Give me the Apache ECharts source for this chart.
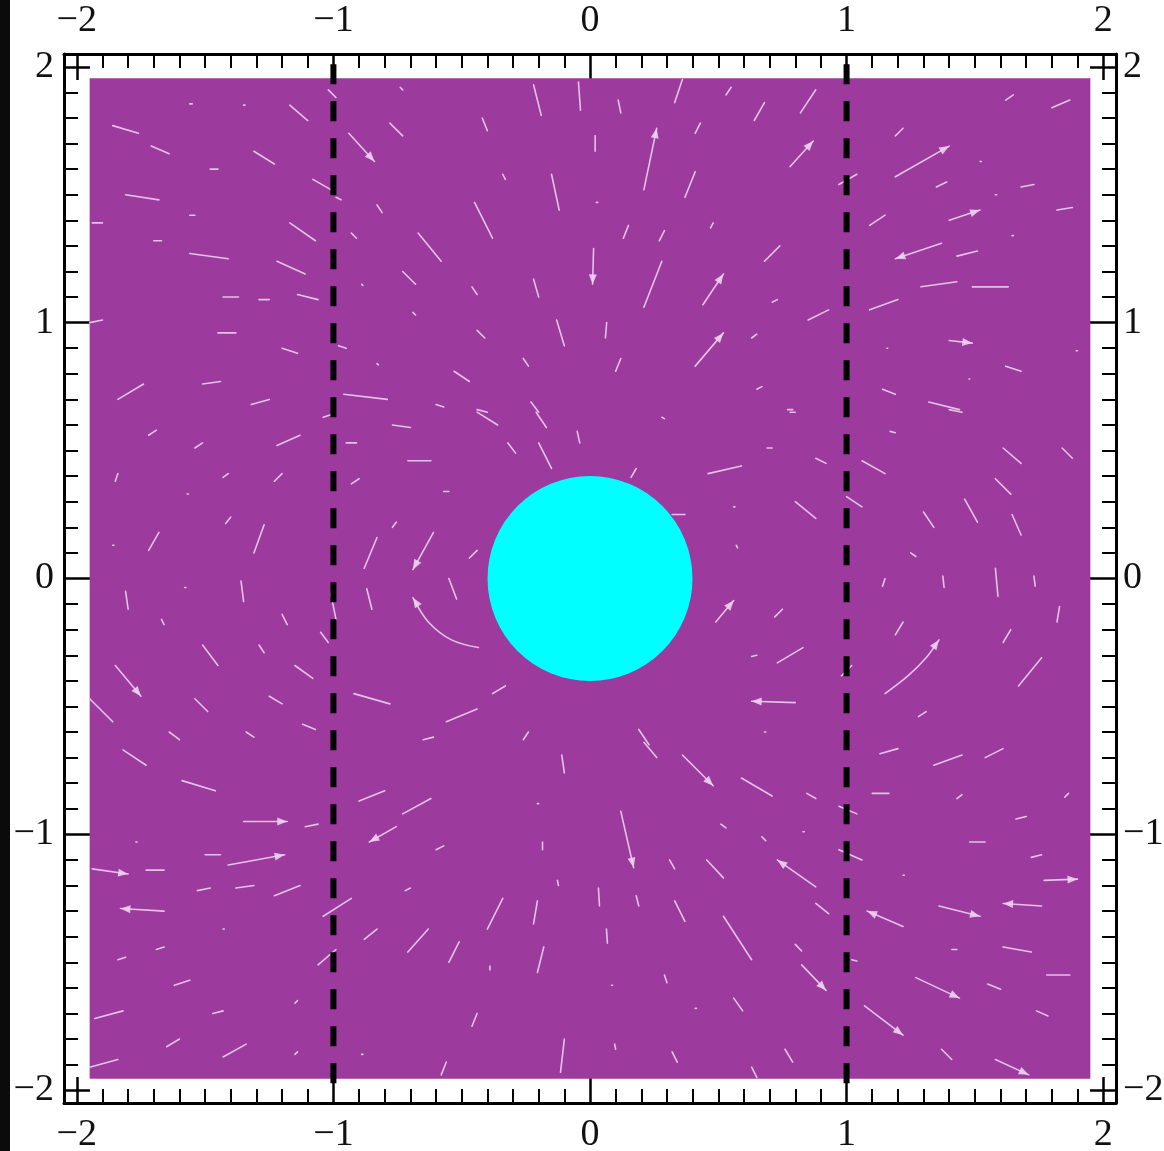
<!DOCTYPE html>
<html>
<head>
<meta charset="utf-8">
<title>Stream field around a disk</title>
<script src="https://cdn.jsdelivr.net/npm/echarts@6/dist/echarts.min.js"></script>
<style>
  html, body { margin: 0; padding: 0; background: #ffffff; }
  #chart { width: 1164px; height: 1151px; }
</style>
</head>
<body>
<div id="chart"></div>
<script>
// ---- data -------------------------------------------------------------
const AXIS_RANGE = [-2.05, 2.05];
const MAJOR_TICKS = [-2, -1, 0, 1, 2];
const TICK_LABELS = ['\u22122', '\u22121', '0', '1', '2'];
const MINOR_TICKS = [
  -1.9, -1.8, -1.7, -1.6, -1.5, -1.4, -1.3, -1.2, -1.1,
  -0.9, -0.8, -0.7, -0.6, -0.5, -0.4, -0.3, -0.2, -0.1,
  0.1, 0.2, 0.3, 0.4, 0.5, 0.6, 0.7, 0.8, 0.9,
  1.1, 1.2, 1.3, 1.4, 1.5, 1.6, 1.7, 1.8, 1.9
];

// shaded domain [xmin, ymax, xmax, ymin]
const fieldRegion = [[-1.95, 1.955, 1.95, -1.955]];
// obstacle disk [cx, cy, radius]
const obstacle = [[0, 0, 0.4]];
// vertical dashed boundaries at x = -1 and x = 1
const dividerX = [-1, 1];
const dividerSpan = [2.01, -1.99];

// stream segments [x0, y0, x1, y1, arrowhead]
const streamSegments = [
  // upper left
  [-1.02,1.91,-0.99,1.88],[-1.17,1.85,-1.10,1.79],[-1.86,1.77,-1.76,1.74],[-1.71,1.69,-1.64,1.66],
  [-1.31,1.67,-1.23,1.62],[-1.48,1.60,-1.45,1.60],[-1.56,1.855,-1.55,1.855],[-1.35,1.85,-1.345,1.85],
  [-1.81,1.50,-1.68,1.48],[-1.08,1.56,-1.01,1.52],[-0.99,1.49,-0.97,1.48],[-1.56,1.42,-1.54,1.42],
  [-1.94,1.39,-1.90,1.39],[-1.70,1.32,-1.67,1.32],[-1.17,1.39,-1.07,1.32],[-1.56,1.27,-1.41,1.25],
  [-1.22,1.24,-1.11,1.19],[-1.43,1.10,-1.37,1.10],[-1.29,1.09,-1.25,1.09],[-1.14,1.11,-1.06,1.09],
  [-1.95,1.00,-1.90,1.01],[-1.45,0.96,-1.38,0.96],[-1.20,0.90,-1.14,0.88],[-0.98,0.91,-0.95,0.90],
  [-1.84,0.70,-1.74,0.76],[-1.51,0.76,-1.44,0.77],[-1.32,0.68,-1.25,0.70],[-0.96,0.72,-0.79,0.70],
  [-0.74,1.92,-0.73,1.91],[-0.22,1.93,-0.19,1.81],[-0.045,1.94,-0.037,1.83],[-0.78,1.78,-0.73,1.73],
  [-0.42,1.80,-0.40,1.75],[-0.94,1.74,-0.84,1.63,1],[-0.34,1.58,-0.33,1.56],[-0.15,1.58,-0.12,1.44],
  [-0.83,1.46,-0.81,1.43],[-0.45,1.47,-0.38,1.33],[-0.93,1.35,-0.91,1.33],[-0.67,1.35,-0.58,1.24],
  [-0.73,1.20,-0.68,1.15],[-0.89,1.15,-0.885,1.145],[-0.46,1.14,-0.44,1.11],[-0.22,1.17,-0.20,1.10],
  [-0.69,1.04,-0.68,1.03],[-0.44,0.97,-0.41,0.94],[-0.13,1.01,-0.10,0.91],[-0.83,0.84,-0.825,0.835],
  [-0.26,0.86,-0.24,0.83],[-0.53,0.81,-0.47,0.77],[-0.60,0.68,-0.57,0.67],[-0.44,0.66,-0.40,0.65],
  [-0.23,0.69,-0.20,0.65],
  // upper right
  [0.33,1.86,0.36,1.95],[0.11,1.87,0.12,1.82],[0.53,1.89,0.55,1.92],[0.64,1.79,0.68,1.86],
  [0.82,1.82,0.88,1.91],[0.02,1.73,0.02,1.67],[0.21,1.52,0.26,1.76,1],[0.41,1.74,0.43,1.78],
  [0.37,1.49,0.41,1.59],[0.78,1.61,0.87,1.71,1],[0.025,1.47,0.03,1.47],[0.13,1.33,0.15,1.38],
  [0.27,1.32,0.29,1.36],[0.47,1.37,0.48,1.39],[0.68,1.24,0.74,1.30],[0.014,1.29,0.01,1.15,1],
  [0.21,1.06,0.28,1.24],[0.44,1.07,0.52,1.19,1],[0.71,1.08,0.73,1.09],[0.85,1.01,0.93,1.05],
  [0.06,0.94,0.065,1.00],[0.10,0.81,0.12,0.86],[0.41,0.83,0.52,0.96,1],[0.63,0.94,0.65,0.955],
  [0.65,0.74,0.67,0.75],[0.77,0.66,0.79,0.66],[1.19,1.73,1.22,1.76],[1.19,1.57,1.40,1.69,1],
  [1.62,1.87,1.65,1.89],[1.80,1.84,1.87,1.87],[0.97,1.54,1.04,1.58],[1.35,1.53,1.39,1.55],
  [1.52,1.63,1.525,1.63],[1.68,1.53,1.73,1.54],[1.58,1.50,1.585,1.50],[1.09,1.38,1.15,1.42],
  [1.40,1.40,1.52,1.44,1],[1.82,1.44,1.88,1.45],[1.645,1.34,1.65,1.34],[1.37,1.31,1.19,1.25,1],
  [1.43,1.26,1.51,1.28],[1.29,1.14,1.43,1.16],[1.49,1.14,1.63,1.14],[1.09,1.05,1.20,1.09],
  [1.40,0.93,1.49,0.92,1],[1.157,0.90,1.16,0.90],[1.895,0.89,1.90,0.89],[1.62,0.83,1.68,0.81],
  [1.477,0.78,1.48,0.78],[1.14,0.74,1.19,0.72],[1.32,0.69,1.44,0.66],
  // middle left
  [-1.04,0.63,-1.01,0.64],[-1.72,0.56,-1.69,0.58],[-1.54,0.51,-1.51,0.53],[-1.22,0.52,-1.13,0.56],
  [-0.95,0.53,-0.91,0.53],[-0.77,0.60,-0.70,0.59],[-0.44,0.65,-0.36,0.60],[-0.21,0.65,-0.17,0.59],
  [-0.05,0.575,-0.04,0.53],[-0.32,0.53,-0.29,0.49],[-0.20,0.53,-0.15,0.43],[-0.71,0.46,-0.62,0.46],
  [-1.85,0.38,-1.84,0.41],[-1.43,0.395,-1.41,0.41],[-1.23,0.38,-1.20,0.41],[-0.93,0.37,-0.90,0.39],
  [-0.57,0.34,-0.55,0.34],[-1.57,0.33,-1.565,0.33],[-1.42,0.215,-1.40,0.24],[-1.72,0.11,-1.68,0.18],
  [-1.31,0.10,-1.27,0.21],[-0.77,0.20,-0.755,0.22],[-0.88,0.04,-0.83,0.16],[-0.61,0.18,-0.69,0.035,1],
  [-0.47,0.08,-0.44,0.11],[-1.86,0.13,-1.855,0.13],[-1.81,-0.05,-1.80,-0.12],[-1.58,-0.035,-1.575,-0.035],
  [-1.36,-0.01,-1.35,-0.09],[-1.01,-0.06,-0.99,-0.16],[-0.87,-0.04,-0.85,-0.12],[-0.55,0.00,-0.52,-0.08],
  [-1.20,-0.14,-1.18,-0.18],[-1.67,-0.16,-1.66,-0.18],[-1.05,-0.21,-1.02,-0.25],[-1.51,-0.26,-1.45,-0.34],
  [-1.29,-0.26,-1.27,-0.29],[-1.85,-0.34,-1.75,-0.46,1],[-1.15,-0.34,-1.08,-0.39],[-0.92,-0.45,-0.78,-0.49],
  [-0.38,-0.45,-0.33,-0.42],[-1.95,-0.47,-1.86,-0.56],[-1.54,-0.47,-1.49,-0.52],[-1.25,-0.46,-1.20,-0.49],
  [-0.56,-0.56,-0.44,-0.51],[-1.64,-0.60,-1.60,-0.63],[-1.34,-0.60,-1.31,-0.62],[-1.12,-0.57,-1.07,-0.59],
  [-0.65,-0.63,-0.61,-0.62],[-0.26,-0.63,-0.24,-0.60],
  // middle right
  [0.28,0.63,0.29,0.625],[0.78,0.65,0.80,0.65],[0.69,0.51,0.71,0.51],[0.46,0.41,0.59,0.44],
  [0.88,0.47,0.92,0.45],[0.16,0.395,0.18,0.43],[0.32,0.25,0.37,0.25],[0.56,0.28,0.565,0.28],
  [0.80,0.30,0.88,0.235],[0.57,0.13,0.575,0.12],[0.49,-0.17,0.56,-0.086,1],[0.72,-0.15,0.75,-0.12],
  [0.63,-0.305,0.65,-0.30],[0.73,-0.33,0.83,-0.27],[0.80,-0.485,0.63,-0.48,1],[0.19,-0.59,0.23,-0.65],
  [0.68,-0.60,0.685,-0.60],[1.40,0.66,1.45,0.65],[1.17,0.575,1.19,0.57],[1.06,0.46,1.15,0.41],
  [1.00,0.32,1.06,0.28],[1.61,0.51,1.68,0.45],[1.84,0.51,1.88,0.47],[1.58,0.39,1.64,0.33],
  [1.46,0.31,1.51,0.22],[1.30,0.26,1.34,0.20],[1.645,0.25,1.68,0.17],[1.25,0.10,1.27,0.086],
  [1.14,-0.03,1.15,0.00],[1.375,0.01,1.38,-0.035],[1.58,0.04,1.59,-0.07],[1.73,0.01,1.735,-0.03],
  [1.19,-0.22,1.22,-0.17],[1.82,-0.17,1.83,-0.11],[1.61,-0.25,1.64,-0.20],[1.67,-0.42,1.76,-0.31],
  [1.28,-0.54,1.31,-0.52],[0.98,-0.38,1.02,-0.34],
  // lower left
  [-1.82,-0.67,-1.73,-0.73],[-1.59,-0.79,-1.46,-0.83],[-1.35,-0.95,-1.18,-0.95,1],[-1.11,-0.97,-1.06,-0.96],
  [-1.77,-1.03,-1.765,-1.03],[-1.50,-1.08,-1.44,-1.08],[-1.41,-1.12,-1.19,-1.08,1],[-1.94,-1.135,-1.80,-1.155,1],
  [-1.73,-1.14,-1.66,-1.14],[-1.53,-1.22,-1.48,-1.21],[-1.38,-1.21,-1.31,-1.20],[-1.23,-1.24,-1.13,-1.20],
  [-1.66,-1.30,-1.83,-1.29,1],[-1.43,-1.37,-1.425,-1.37],[-1.84,-1.49,-1.81,-1.48],[-1.69,-1.45,-1.66,-1.44],
  [-1.62,-1.59,-1.56,-1.57],[-1.93,-1.72,-1.82,-1.69],[-1.47,-1.70,-1.43,-1.69],[-1.15,-1.66,-1.14,-1.65],
  [-1.65,-1.83,-1.60,-1.80],[-1.43,-1.87,-1.34,-1.82],[-1.95,-1.91,-1.84,-1.88],[-1.15,-1.86,-1.14,-1.85],
  [-1.04,-1.32,-0.93,-1.25],[-1.06,-1.51,-0.99,-1.45],[-0.90,-0.87,-0.80,-0.83],[-0.73,-0.92,-0.62,-0.86],
  [-0.755,-0.97,-0.86,-1.03,1],[-0.60,-1.06,-0.57,-1.045],[-0.72,-1.22,-0.70,-1.21],[-0.88,-1.41,-0.83,-1.37],
  [-0.71,-1.46,-0.63,-1.37],[-0.55,-1.50,-0.51,-1.42],[-0.40,-1.37,-0.34,-1.25],[-0.22,-1.35,-0.205,-1.26],
  [-0.205,-1.54,-0.18,-1.44],[-0.39,-1.515,-0.39,-1.53],[-0.11,-0.69,-0.10,-0.76],[-0.205,-0.88,-0.20,-0.88],
  [-0.185,-1.03,-0.185,-1.06],[-0.127,-1.18,-0.123,-1.20],[-0.46,-1.75,-0.44,-1.70],[-0.115,-1.93,-0.10,-1.80],
  [-0.58,-1.94,-0.56,-1.89],[-0.89,-1.86,-0.885,-1.86],
  // lower right
  [0.21,-0.64,0.26,-0.70],[0.36,-0.69,0.48,-0.81,1],[0.59,-0.78,0.71,-0.85],[0.845,-0.84,0.88,-0.86],
  [0.97,-0.89,1.04,-0.92],[0.12,-0.91,0.17,-1.13,1],[0.51,-0.96,0.53,-0.975],[0.83,-0.99,0.835,-0.99],
  [0.67,-1.01,0.685,-1.025],[0.31,-1.10,0.33,-1.135],[0.455,-1.10,0.52,-1.17],[0.88,-1.205,0.73,-1.10,1],
  [0.97,-1.06,1.06,-1.10],[0.033,-1.21,0.037,-1.28],[0.18,-1.24,0.19,-1.28],[0.33,-1.26,0.37,-1.34],
  [0.88,-1.27,0.93,-1.31],[0.064,-1.37,0.068,-1.425],[0.52,-1.32,0.63,-1.49],[0.80,-1.43,0.825,-1.456],
  [0.825,-1.51,0.92,-1.61,1],[0.29,-1.55,0.30,-1.58],[0.084,-1.59,0.088,-1.59],[0.56,-1.64,0.595,-1.69],
  [0.41,-1.68,0.415,-1.68],[0.096,-1.82,0.10,-1.84],[0.32,-1.85,0.34,-1.89],[0.76,-1.84,0.79,-1.89],
  [0.63,-1.91,0.65,-1.95],[1.13,-0.685,1.20,-0.665],[1.34,-0.73,1.45,-0.69],[1.54,-0.70,1.61,-0.665],
  [1.10,-0.84,1.165,-0.84],[1.43,-0.86,1.45,-0.845],[1.85,-0.855,1.865,-0.84],[1.66,-0.94,1.70,-0.93],
  [1.48,-1.03,1.54,-1.03],[1.72,-1.09,1.76,-1.08],[1.22,-1.16,1.225,-1.16],[1.77,-1.18,1.90,-1.175,1],
  [1.76,-1.28,1.61,-1.27,1],[1.36,-1.28,1.52,-1.32,1],[1.22,-1.36,1.08,-1.30,1],[1.41,-1.45,1.43,-1.45],
  [1.61,-1.44,1.72,-1.46],[1.78,-1.55,1.87,-1.55],[1.27,-1.56,1.44,-1.64,1],[1.55,-1.585,1.60,-1.605],
  [1.74,-1.69,1.785,-1.71],[1.07,-1.67,1.22,-1.785,1],[1.37,-1.84,1.41,-1.88],[1.58,-1.88,1.71,-1.94,1],
  [1.02,-1.49,1.04,-1.495]
];

// curved streamlines, each ending in an arrowhead
const streamCurves = [
  [[-0.435, -0.27], [-0.54, -0.24], [-0.63, -0.17], [-0.69, -0.075]],
  [[1.15, -0.45], [1.24, -0.38], [1.31, -0.31], [1.36, -0.24]]
];

// ---- styling ----------------------------------------------------------
const FIELD_COLOR = '#9c3a9e';
const DISK_COLOR = '#00ffff';
const STREAM_COLOR = 'rgba(236, 210, 238, 0.9)';
const LABEL_FONT = { fontFamily: '"Liberation Serif", "DejaVu Serif", serif', fontSize: 38, color: '#111' };

const streams = streamSegments
  .map(s => ({ pts: [[s[0], s[1]], [s[2], s[3]]], head: s[4] === 1 }))
  .concat(streamCurves.map(c => ({ pts: c, head: true })));

function tickText(v) {
  let best = 0;
  MAJOR_TICKS.forEach((t, i) => { if (Math.abs(t - v) < Math.abs(MAJOR_TICKS[best] - v)) best = i; });
  return TICK_LABELS[best];
}

function axisPair(position, labelMargin) {
  const base = {
    type: 'value', min: AXIS_RANGE[0], max: AXIS_RANGE[1],
    position: position, splitLine: { show: false }
  };
  const major = Object.assign({}, base, {
    axisLine: { show: true, onZero: false, lineStyle: { color: '#000', width: 3 } },
    axisTick: { show: true, inside: true, length: 26, customValues: MAJOR_TICKS,
                lineStyle: { color: '#000', width: 2.5 } },
    axisLabel: Object.assign({ show: true, margin: labelMargin, customValues: MAJOR_TICKS,
                               formatter: tickText }, LABEL_FONT)
  });
  const minor = Object.assign({}, base, {
    axisLine: { show: false, onZero: false },
    axisTick: { show: true, inside: true, length: 14, customValues: MINOR_TICKS,
                lineStyle: { color: '#000', width: 2 } },
    axisLabel: { show: false }
  });
  return [major, minor];
}

const chart = echarts.init(document.getElementById('chart'), null, { renderer: 'canvas' });

const option = {
  animation: false,
  backgroundColor: '#ffffff',
  grid: { left: 64, right: 48, top: 54, bottom: 48, containLabel: false, outerBoundsMode: 'none' },
  xAxis: [].concat(axisPair('bottom', 13), axisPair('top', 14)),
  yAxis: [].concat(axisPair('left', 10), axisPair('right', 7)),
  graphic: [{
    type: 'rect', left: 0, top: 0, z: 100,
    shape: { width: 10, height: 1151 },
    style: { fill: '#0b0b0b' }
  }],
  series: [
    {
      name: 'domain', type: 'custom', z: 1, silent: true,
      data: fieldRegion, encode: { x: [0, 2], y: [1, 3] },
      renderItem: function (params, api) {
        const p0 = api.coord([api.value(0), api.value(1)]);
        const p1 = api.coord([api.value(2), api.value(3)]);
        return { type: 'rect',
                 shape: { x: p0[0], y: p0[1], width: p1[0] - p0[0], height: p1[1] - p0[1] },
                 style: { fill: FIELD_COLOR } };
      }
    },
    {
      name: 'streams', type: 'custom', z: 3, silent: true,
      data: streams.map(s => [s.pts[0][0], s.pts[0][1]]), encode: { x: 0, y: 1 },
      renderItem: function (params, api) {
        const s = streams[params.dataIndex];
        const pts = s.pts.map(p => api.coord(p));
        const children = [{
          type: 'polyline',
          shape: { points: pts, smooth: pts.length > 2 ? 0.35 : 0 },
          style: { stroke: STREAM_COLOR, lineWidth: 1.6, fill: null, lineCap: 'round' }
        }];
        if (s.head) {
          const a = pts[pts.length - 2], b = pts[pts.length - 1];
          const dx = b[0] - a[0], dy = b[1] - a[1];
          const len = Math.hypot(dx, dy) || 1;
          const ux = dx / len, uy = dy / len;
          const hl = 10, hw = 4;
          const bx = b[0] - ux * hl, by = b[1] - uy * hl;
          children.push({
            type: 'polygon',
            shape: { points: [b, [bx - uy * hw, by + ux * hw], [bx + uy * hw, by - ux * hw]] },
            style: { fill: STREAM_COLOR }
          });
        }
        return { type: 'group', children: children };
      }
    },
    {
      name: 'disk', type: 'custom', z: 5, silent: true,
      data: obstacle, encode: { x: 0, y: 1 },
      renderItem: function (params, api) {
        const c = api.coord([api.value(0), api.value(1)]);
        const s = api.size([api.value(2), api.value(2)]);
        return { type: 'circle', shape: { cx: c[0], cy: c[1], r: (s[0] + s[1]) / 2 },
                 style: { fill: DISK_COLOR } };
      }
    }
  ].concat(dividerX.map(x => ({
    name: 'divider ' + x, type: 'line', z: 4, silent: true,
    symbol: 'none',
    data: [[x, dividerSpan[0]], [x, dividerSpan[1]]],
    lineStyle: { color: '#000', width: 6, type: [20, 17], cap: 'butt' }
  })))
};

chart.setOption(option);
</script>
</body>
</html>
